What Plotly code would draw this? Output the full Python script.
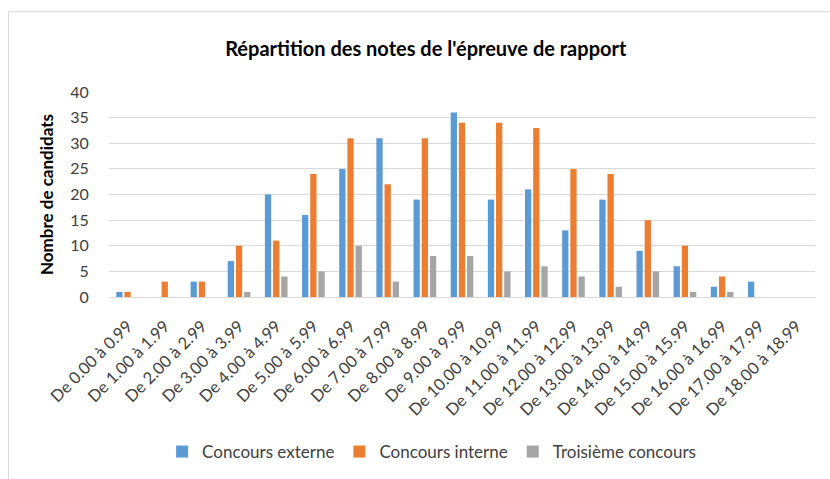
import plotly.graph_objects as go

categories = ["De 0.00 à 0.99", "De 1.00 à 1.99", "De 2.00 à 2.99", "De 3.00 à 3.99",
              "De 4.00 à 4.99", "De 5.00 à 5.99", "De 6.00 à 6.99", "De 7.00 à 7.99",
              "De 8.00 à 8.99", "De 9.00 à 9.99", "De 10.00 à 10.99", "De 11.00 à 11.99",
              "De 12.00 à 12.99", "De 13.00 à 13.99", "De 14.00 à 14.99", "De 15.00 à 15.99",
              "De 16.00 à 16.99", "De 17.00 à 17.99", "De 18.00 à 18.99"]
externe = [1, None, 3, 7, 20, 16, 25, 31, 19, 36, 19, 21, 13, 19, 9, 6, 2, 3, None]
interne = [1, 3, 3, 10, 11, 24, 31, 22, 31, 34, 34, 33, 25, 24, 15, 10, 4, None, None]
troisieme = [None, None, None, 1, 4, 5, 10, 3, 8, 8, 5, 6, 4, 2, 5, 1, 1, None, None]
y_ticks = [0, 5, 10, 15, 20, 25, 30, 35, 40]

FONT = "Lato"
fig = go.Figure()
for name, vals, col in [("Concours externe", externe, "#5B9BD5"),
                        ("Concours interne", interne, "#ED7D31"),
                        ("Troisième concours", troisieme, "#A5A5A5")]:
    fig.add_trace(go.Bar(x=categories, y=vals, name=name, marker_color=col,
                         marker_line_width=0))

fig.update_layout(
    width=830, height=479,
    margin=dict(l=109, r=15, t=92, b=182),
    paper_bgcolor="white", plot_bgcolor="white",
    barmode="group", bargap=0.34, bargroupgap=0.23,
    font=dict(family=FONT, color="#404040"),
    title=dict(text="<b>Répartition des notes de l'épreuve de rapport</b>",
               x=0.513, xanchor="center", xref="container",
               y=1 - 49 / 479, yanchor="middle", yref="container",
               font=dict(family=FONT, size=20, color="black")),
    legend=dict(orientation="h", x=0.52, xanchor="center", xref="container",
                y=1 - 452 / 479, yanchor="middle", yref="container",
                font=dict(family=FONT, size=17, color="#404040"),
                traceorder="normal", itemwidth=30),
    showlegend=True,
    shapes=[dict(type="rect", xref="paper", yref="paper",
                 x0=-0.1423, x1=1.2, y0=-1.2, y1=1.392,
                 line=dict(color="#d9d9d9", width=1), layer="below")],
)
fig.update_xaxes(tickangle=-45, tickfont=dict(family=FONT, size=16.5, color="#404040"),
                 showgrid=False, showline=False,
                 ticks="outside", ticklen=12, tickcolor="rgba(0,0,0,0)")
fig.update_yaxes(range=[0, 40], tickvals=y_ticks, showgrid=True, gridcolor="#d9d9d9",
                 gridwidth=1, zeroline=True, zerolinecolor="#d9d9d9", zerolinewidth=1,
                 tickfont=dict(family=FONT, size=16, color="#404040"),
                 ticks="outside", ticklen=16, tickcolor="rgba(0,0,0,0)",
                 title=dict(text="<b>Nombre de candidats</b>", standoff=12,
                            font=dict(family=FONT, size=17, color="black")))
fig.write_html("out.html", config={"displayModeBar": False},
               post_script="document.body.style.margin='0';")
